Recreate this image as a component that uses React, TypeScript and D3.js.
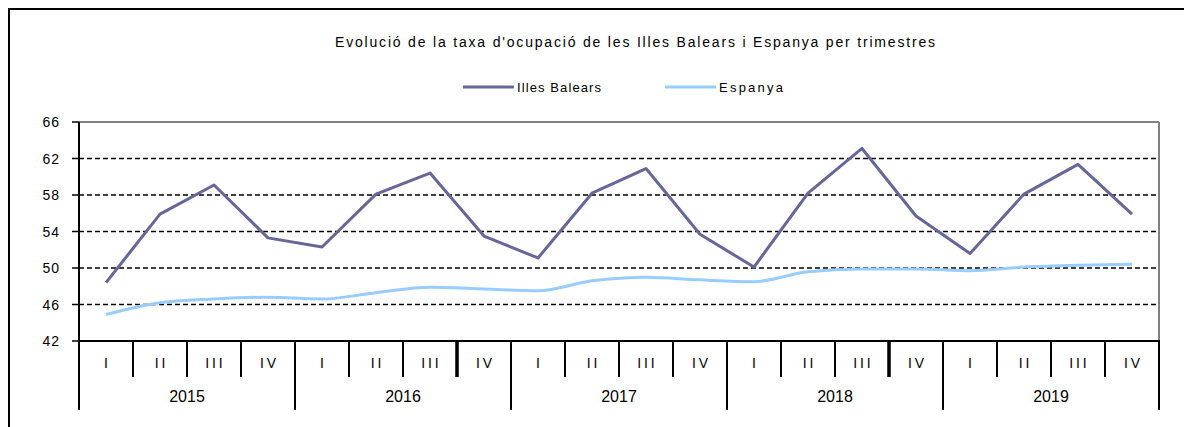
import React from 'react';
import * as d3 from 'd3';

const years = ['2015', '2016', '2017', '2018', '2019'];
const quarters = ['I', 'II', 'III', 'IV'];
const yTicks = [42, 46, 50, 54, 58, 62, 66];

const balears = [
  48.4, 55.9, 59.1, 53.3,
  52.3, 58.1, 60.4, 53.5,
  51.1, 58.2, 60.9, 53.7,
  50.1, 58.2, 63.1, 55.7,
  51.6, 58.1, 61.35, 55.9,
];

const espanya = [
  44.9, 46.2, 46.6, 46.8,
  46.6, 47.3, 47.9, 47.7,
  47.5, 48.6, 49.0, 48.7,
  48.5, 49.6, 49.9, 49.9,
  49.7, 50.1, 50.3, 50.4,
];

const series = [
  { name: 'Illes Balears', values: balears, color: '#666699', smooth: false },
  { name: 'Espanya', values: espanya, color: '#99ccff', smooth: true },
];

const W = 1184;
const H = 427;
const plot = { left: 79, right: 1159, top: 122, bottom: 341 };
const font = '"Liberation Sans", Arial, sans-serif';

export default function App() {
  const periods = years.flatMap(y => quarters.map(q => `${y}-${q}`));

  const x = d3.scaleBand<string>()
    .domain(periods)
    .range([plot.left, plot.right]);

  const y = d3.scaleLinear()
    .domain([42, 66])
    .range([plot.bottom, plot.top]);

  const cx = (i: number) => (x(periods[i]) ?? 0) + x.bandwidth() / 2;

  const makeLine = (smooth: boolean) =>
    d3.line<number>()
      .x((_, i) => cx(i))
      .y(d => y(d))
      .curve(smooth ? d3.curveMonotoneX : d3.curveLinear);

  const yearWidth = x.bandwidth() * quarters.length;

  return (
    <svg
      width={W}
      height={H}
      style={{ position: 'absolute', left: 0, top: 0, background: '#fff', fontFamily: font }}
    >
      {/* outer frame */}
      <rect x={9} y={9} width={W + 20} height={H + 20} fill="none" stroke="#000" strokeWidth={2} />

      {/* title */}
      <text x={635} y={47} textAnchor="middle" fontSize={14} textLength={600} lengthAdjust="spacing" fill="#000">
        Evolució de la taxa d'ocupació de les Illes Balears i Espanya per trimestres
      </text>

      {/* legend */}
      {series.map((s, i) => {
        const lx = i === 0 ? 463 : 665;
        return (
          <g key={s.name}>
            <line x1={lx} x2={lx + 51} y1={87} y2={87} stroke={s.color} strokeWidth={3} />
            <text x={lx + 54} y={92} fontSize={13} textLength={i === 0 ? 84 : 64} lengthAdjust="spacing">{s.name}</text>
          </g>
        );
      })}

      {/* plot frame top/right */}
      <line x1={plot.left} x2={plot.right} y1={plot.top} y2={plot.top} stroke="#808080" strokeWidth={2} />
      <line x1={plot.right} x2={plot.right} y1={plot.top} y2={plot.bottom} stroke="#808080" strokeWidth={2} />

      {/* gridlines */}
      {yTicks.filter(t => t !== 42 && t !== 66).map(t => (
        <line key={t} x1={plot.left} x2={plot.right} y1={y(t)} y2={y(t)}
          stroke="#000" strokeWidth={1.5} strokeDasharray="5 3" />
      ))}

      {/* y axis */}
      <line x1={plot.left} x2={plot.left} y1={plot.top} y2={plot.bottom} stroke="#000" strokeWidth={2} />
      {yTicks.map(t => (
        <g key={t}>
          <line x1={plot.left - 7} x2={plot.left} y1={y(t)} y2={y(t)} stroke="#000" strokeWidth={1.5} />
          <text x={60} y={y(t) + 5} textAnchor="end" fontSize={14} letterSpacing={1}>{t}</text>
        </g>
      ))}

      {/* x axis */}
      <line x1={plot.left} x2={plot.right + 1} y1={plot.bottom} y2={plot.bottom} stroke="#000" strokeWidth={2} />
      {periods.map((p, i) => {
        const x0 = x(p) ?? 0;
        const thick = i === 7 || i === 15;
        return i % 4 !== 0 ? (
          <line key={p} x1={x0} x2={x0} y1={plot.bottom} y2={377} stroke="#000" strokeWidth={thick ? 3.5 : 2} />
        ) : null;
      })}
      {/* grayscale text rendering for the thin roman numerals */}
      <g opacity={0.99}>
        {periods.map((p, i) => (
          <text key={p} x={cx(i)} y={368} textAnchor="middle" fontSize={14} fill="#000">
            {quarters[i % 4].split('').join('\u2009')}
          </text>
        ))}
      </g>
      {years.map((yr, i) => {
        const x0 = plot.left + i * yearWidth;
        return (
          <g key={yr}>
            <line x1={x0} x2={x0} y1={plot.bottom} y2={410} stroke="#000" strokeWidth={2} />
            <text x={x0 + yearWidth / 2} y={402} textAnchor="middle" fontSize={16}>{yr}</text>
          </g>
        );
      })}
      <line x1={plot.right} x2={plot.right} y1={plot.bottom} y2={410} stroke="#000" strokeWidth={2} />

      {/* series */}
      {series.slice().reverse().map(s => (
        <path key={s.name} d={makeLine(s.smooth)(s.values) ?? ''} fill="none"
          stroke={s.color} strokeWidth={3} strokeLinejoin="round" />
      ))}
    </svg>
  );
}
